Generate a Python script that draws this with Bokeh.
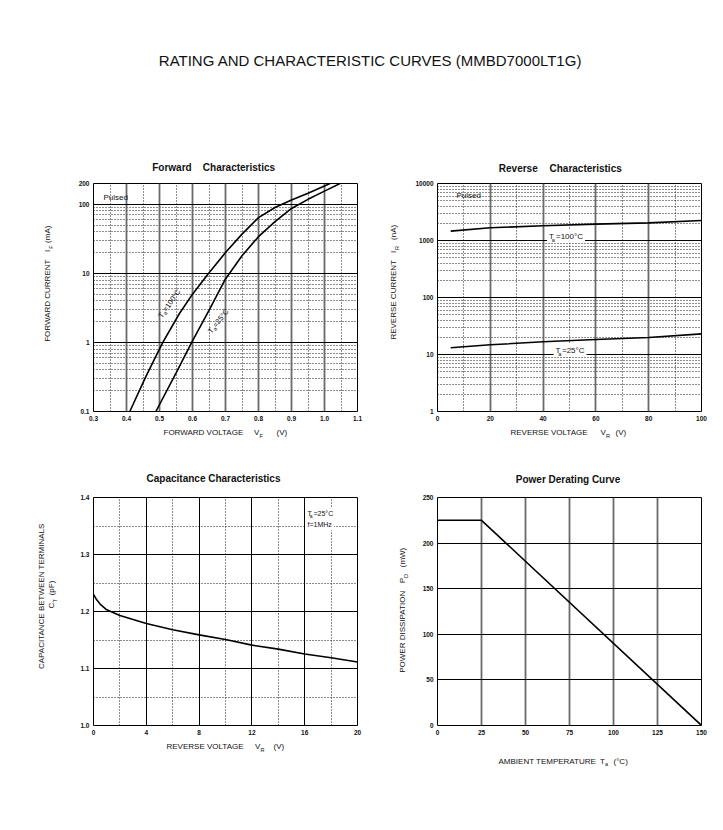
import math
from bokeh.plotting import figure
from bokeh.models import Range1d, FixedTicker, Grid, Label, CustomJSTickFormatter
from bokeh.layouts import column, row
from bokeh.embed import file_html
from bokeh.resources import INLINE

FONT = "Liberation Sans"
INK = "#111111"

# ---------------- data ----------------
page_title = "RATING AND CHARACTERISTIC CURVES (MMBD7000LT1G)"

# Forward characteristics (VF in V, IF in mA)
fwd_vf_100 = [0.41, 0.46, 0.51, 0.56, 0.60, 0.649, 0.70, 0.75, 0.80, 0.85, 0.90, 0.95, 1.017]
fwd_if_100 = [0.1, 0.33, 1.0, 2.6, 5.0, 10, 20, 37, 64, 90, 115, 145, 200]
fwd_vf_25 = [0.489, 0.55, 0.60, 0.65, 0.70, 0.75, 0.80, 0.85, 0.90, 0.95, 1.00, 1.047]
fwd_if_25 = [0.1, 0.36, 1.05, 2.9, 8.3, 18, 34, 56, 87, 118, 155, 200]
fwd_x_ticks = [0.3, 0.4, 0.5, 0.6, 0.7, 0.8, 0.9, 1.0, 1.1]
fwd_x_major = [0.4, 0.5, 0.6, 0.7, 0.8, 0.9, 1.0]
fwd_x_minor = [0.35, 0.45, 0.55, 0.65, 0.75, 0.85, 0.95, 1.05]
fwd_y_ticks = [0.1, 1, 10, 100, 200]
fwd_y_major = [1, 10, 100]
fwd_y_minor = [0.2, 0.3, 0.4, 0.5, 0.6, 0.7, 0.8, 0.9, 2, 3, 4, 5, 6, 7, 8, 9,
               20, 30, 40, 50, 60, 70, 80, 90]

# Reverse characteristics (VR in V, IR in nA)
rev_vr = [5, 20, 40, 60, 80, 100]
rev_ir_100 = [1460, 1670, 1810, 1940, 2040, 2240]
rev_ir_25 = [13.1, 14.8, 16.7, 18.3, 19.9, 23.0]
rev_x_ticks = [0, 20, 40, 60, 80, 100]
rev_x_major = [20, 40, 60, 80]
rev_x_minor = [10, 30, 50, 70, 90]
rev_y_ticks = [1, 10, 100, 1000, 10000]
rev_y_major = [10, 100, 1000]
rev_y_minor = [2, 3, 4, 5, 6, 7, 8, 9, 20, 30, 40, 50, 60, 70, 80, 90,
               200, 300, 400, 500, 600, 700, 800, 900,
               2000, 3000, 4000, 5000, 6000, 7000, 8000, 9000]

# Capacitance characteristics (VR in V, CT in pF)
cap_vr = [0, 0.2, 0.5, 1, 2, 4, 6, 8, 10, 12, 14, 16, 18, 20]
cap_ct = [1.230, 1.222, 1.213, 1.203, 1.193, 1.179, 1.168, 1.159, 1.151, 1.141, 1.134, 1.1255, 1.119, 1.1115]
cap_x_ticks = [0, 4, 8, 12, 16, 20]
cap_x_major = [4, 8, 12, 16]
cap_x_minor = [2, 6, 10, 14, 18]
cap_y_ticks = [1.0, 1.1, 1.2, 1.3, 1.4]
cap_y_major = [1.1, 1.2, 1.3]
cap_y_minor = [1.05, 1.15, 1.25, 1.35]

# Power derating (Ta in degC, PD in mW)
pwr_ta = [0, 25, 150]
pwr_pd = [225, 225, 0]
pwr_x_ticks = [0, 25, 50, 75, 100, 125, 150]
pwr_x_major = [25, 50, 75, 100, 125]
pwr_y_ticks = [0, 50, 100, 150, 200, 250]
pwr_y_major = [50, 100, 150, 200]

# ---------------- layout (absolute page pixels) ----------------
FW, FH = 264, 228
CB_L, CB_T, CB_B = 26, 5, 14          # chart borders (tick labels only)
LEFT_FRAME, RIGHT_FRAME = 93, 437
TOP_FRAME, BOT_FRAME = 183, 497
PAGE_W = 707

GRAY = "#6a6a6a"
DOT = "#1a1a1a"
DOTDASH = "1 2"


class Panel:
    def __init__(self, p, x0, y0, left, bottom):
        self.p, self.x0, self.y0, self.left, self.bottom = p, x0, y0, left, bottom


def lab(P, ax, ay, text, size=8.0, bold=False, angle=0.0, align="left",
        baseline="middle", bg=None, color=INK):
    """Label inside a chart frame, positioned in page pixels relative to the frame corner."""
    kw = dict(x=P.x0, y=P.y0, x_offset=ax - P.left, y_offset=P.bottom - ay,
              text=text, text_font=FONT, text_font_size=f"{size}px",
              text_font_style="bold" if bold else "normal", text_color=color,
              angle=angle, text_align=align, text_baseline=baseline)
    if bg:
        kw.update(background_fill_color=bg, padding=2)
    P.p.add_layout(Label(**kw))


def slab(s, ax, ay, text, size=8.0, bold=False, angle=0.0, align="left", baseline="middle"):
    """Label on a text strip whose data coordinates are page pixels."""
    s.add_layout(Label(x=ax, y=ay, text=text, text_font=FONT, text_font_size=f"{size}px",
                       text_font_style="bold" if bold else "normal", text_color=INK,
                       angle=angle, text_align=align, text_baseline=baseline))


def strip(x0, x1, y0, y1):
    s = figure(width=x1 - x0, height=y1 - y0, x_range=Range1d(x0, x1), y_range=Range1d(y1, y0),
               min_border=0, x_axis_location=None, y_axis_location=None,
               outline_line_color=None, output_backend="svg", toolbar_location=None,
               background_fill_color="white", border_fill_color="white")
    s.grid.visible = False
    return s


def rotated_ta(P, sx, sy, deg, rest, size=7.5):
    th = math.radians(deg)
    ux, uy = math.cos(th), -math.sin(th)
    nx, ny = math.sin(th), math.cos(th)
    wT = 0.611 * size
    wa = 0.556 * size * 0.72
    lab(P, sx, sy, "T", size=size, angle=th)
    lab(P, sx + ux * wT + nx * 2.0, sy + uy * wT + ny * 2.0, "a", size=size * 0.72, angle=th)
    lab(P, sx + ux * (wT + wa), sy + uy * (wT + wa), rest, size=size, angle=th)


def make_panel(x_range, y_range, log_y, br, x_ticks, y_ticks, left, top,
               x_fmt=None, y_fmt=None):
    p = figure(frame_width=FW, frame_height=FH, x_range=x_range, y_range=y_range,
               y_axis_type="log" if log_y else "linear", output_backend="svg",
               toolbar_location=None, min_border_left=CB_L, min_border_right=br,
               min_border_top=CB_T, min_border_bottom=CB_B,
               background_fill_color="white", border_fill_color="white")
    p.outline_line_color = "black"
    p.outline_line_width = 1
    p.xgrid.grid_line_color = None
    p.ygrid.grid_line_color = None
    for ax, ticks in ((p.xaxis, x_ticks), (p.yaxis, y_ticks)):
        ax.ticker = FixedTicker(ticks=ticks)
        ax.major_tick_line_color = None
        ax.minor_tick_line_color = None
        ax.major_tick_out = 0
        ax.major_tick_in = 0
        ax.minor_tick_out = 0
        ax.minor_tick_in = 0
        ax.axis_line_color = None
        ax.major_label_text_font = FONT
        ax.major_label_text_font_size = "6.5px"
        ax.major_label_text_font_style = "bold"
        ax.major_label_text_color = INK
        ax.major_label_standoff = 4
    if x_fmt:
        p.xaxis.formatter = CustomJSTickFormatter(code=x_fmt)
    if y_fmt:
        p.yaxis.formatter = CustomJSTickFormatter(code=y_fmt)
    return Panel(p, x_range.start, y_range.start, left, top + FH)


def add_grid(p, dim, ticks, color, width, dash="solid"):
    p.add_layout(Grid(dimension=dim, ticker=FixedTicker(ticks=ticks),
                      grid_line_color=color, grid_line_width=width, grid_line_dash=dash))


ONE_DEC = "return tick.toFixed(1);"
PLAIN = "return String(tick);"

# ---------------- forward ----------------
F = make_panel(Range1d(0.3, 1.1), Range1d(0.1, 200), True, 5, fwd_x_ticks, fwd_y_ticks,
               LEFT_FRAME, TOP_FRAME, x_fmt=ONE_DEC, y_fmt=PLAIN)
p = F.p
add_grid(p, 0, fwd_x_minor, DOT, 1, DOTDASH)
add_grid(p, 1, fwd_y_minor, DOT, 1, DOTDASH)
add_grid(p, 0, fwd_x_major, GRAY, 1.8)
add_grid(p, 1, fwd_y_major, "black", 1)
p.line(fwd_vf_100, fwd_if_100, line_color="black", line_width=1.6)
p.line(fwd_vf_25, fwd_if_25, line_color="black", line_width=1.6)
lab(F, 103, 196.5, "Pulsed", size=8)
rotated_ta(F, 159.5, 316.5, 55, "=100°C")
rotated_ta(F, 209, 332, 52, "=25°C")

# ---------------- reverse ----------------
R = make_panel(Range1d(0, 100), Range1d(1, 10000), True, 6, rev_x_ticks, rev_y_ticks,
               RIGHT_FRAME, TOP_FRAME, y_fmt=PLAIN)
p = R.p
add_grid(p, 0, rev_x_minor, DOT, 1, DOTDASH)
add_grid(p, 1, rev_y_minor, DOT, 1, DOTDASH)
add_grid(p, 0, rev_x_major, GRAY, 1.8)
add_grid(p, 1, rev_y_major, "black", 1)
p.line(rev_vr, rev_ir_100, line_color="black", line_width=1.6)
p.line(rev_vr, rev_ir_25, line_color="black", line_width=1.6)
lab(R, 456, 195, "Pulsed", size=8)
lab(R, 553.5, 236, "=100°C", bg="white")
lab(R, 546.5, 236, "T", bg="white")
lab(R, 551.3, 239, "a", size=5.5)
lab(R, 559.5, 350, "=25°C", bg="white")
lab(R, 553, 350, "T", bg="white")
lab(R, 557.8, 353, "a", size=5.5)

# ---------------- capacitance ----------------
C = make_panel(Range1d(0, 20), Range1d(1.0, 1.4), False, 5, cap_x_ticks, cap_y_ticks,
               LEFT_FRAME, BOT_FRAME, y_fmt=ONE_DEC)
p = C.p
add_grid(p, 0, cap_x_minor, DOT, 1, DOTDASH)
add_grid(p, 1, cap_y_minor, DOT, 1, DOTDASH)
add_grid(p, 0, cap_x_major, "black", 1)
add_grid(p, 1, cap_y_major, "black", 1)
p.line(cap_vr, cap_ct, line_color="black", line_width=1.6)
lab(C, 311, 513, "=25°C", size=7, bg="white")
lab(C, 305, 513, "T", size=7, bg="white")
lab(C, 309.3, 515.5, "a", size=5)
lab(C, 305, 524, "f=1MHz", size=7, bg="white")

# ---------------- power derating ----------------
W = make_panel(Range1d(0, 150), Range1d(0, 250), False, 6, pwr_x_ticks, pwr_y_ticks,
               RIGHT_FRAME, BOT_FRAME)
p = W.p
add_grid(p, 0, pwr_x_major, GRAY, 1.8)
add_grid(p, 1, pwr_y_major, "black", 1)
p.line(pwr_ta, pwr_pd, line_color="black", line_width=1.6)

# ---------------- text strips (page-pixel coordinates) ----------------
top_y0 = TOP_FRAME - CB_T
top_y1 = TOP_FRAME + FH + CB_B
bot_y0 = BOT_FRAME - CB_T
bot_y1 = BOT_FRAME + FH + CB_B
lx0 = LEFT_FRAME - CB_L
lx1 = LEFT_FRAME + FW + 5
rx0 = RIGHT_FRAME - CB_L
rx1 = RIGHT_FRAME + FW + 6

# strip A: page title + top panel titles
sA = strip(0, PAGE_W, 0, top_y0)
slab(sA, 370, 60, page_title, size=15, align="center")
slab(sA, 151.7, 167, "Forward", size=10, bold=True)
slab(sA, 202.3, 167, "Characteristics", size=10, bold=True)
slab(sA, 498.3, 168, "Reverse", size=10, bold=True)
slab(sA, 549, 168, "Characteristics", size=10, bold=True)

# y-label strips, top row
yF = strip(0, lx0, top_y0, top_y1)
slab(yF, 47, 305, "FORWARD CURRENT", angle=math.pi / 2, align="center")
slab(yF, 46.5, 251, "I", angle=math.pi / 2, align="center")
slab(yF, 50.5, 247, "F", size=5.5, angle=math.pi / 2, align="center")
slab(yF, 47, 233, "(mA)", angle=math.pi / 2, align="center")

yR = strip(lx1, rx0, top_y0, top_y1)
slab(yR, 393, 304, "REVERSE CURRENT", angle=math.pi / 2, align="center")
slab(yR, 392.5, 252, "I", angle=math.pi / 2, align="center")
slab(yR, 396.5, 248, "R", size=5.5, angle=math.pi / 2, align="center")
slab(yR, 393, 231, "(nA)", angle=math.pi / 2, align="center")

# strip B: top x labels + bottom panel titles
sB = strip(0, PAGE_W, top_y1, bot_y0)
slab(sB, 163, 432, "FORWARD VOLTAGE")
slab(sB, 253.5, 432, "V")
slab(sB, 259, 435, "F", size=5.5)
slab(sB, 276, 432, "(V)")
slab(sB, 510, 432, "REVERSE VOLTAGE")
slab(sB, 600, 432, "V")
slab(sB, 605.5, 435, "R", size=5.5)
slab(sB, 615, 432, "(V)")
slab(sB, 213, 478, "Capacitance Characteristics", size=10, bold=True, align="center")
slab(sB, 567.5, 479, "Power Derating Curve", size=10, bold=True, align="center")

# y-label strips, bottom row
yC = strip(0, lx0, bot_y0, bot_y1)
slab(yC, 40.5, 599, "CAPACITANCE BETWEEN TERMINALS", angle=math.pi / 2, align="center")
slab(yC, 50.5, 609, "C", angle=math.pi / 2, align="center")
slab(yC, 54, 604, "T", size=5.5, angle=math.pi / 2, align="center")
slab(yC, 50.5, 590, "(pF)", angle=math.pi / 2, align="center")

yW = strip(lx1, rx0, bot_y0, bot_y1)
slab(yW, 401.5, 637.5, "POWER DISSIPATION", angle=math.pi / 2, align="center")
slab(yW, 401.5, 582, "P", angle=math.pi / 2, align="center")
slab(yW, 405.5, 577, "D", size=5.5, angle=math.pi / 2, align="center")
slab(yW, 401.5, 557, "(mW)", angle=math.pi / 2, align="center")

# strip C: bottom x labels
sC = strip(0, PAGE_W, bot_y1, bot_y1 + 40)
slab(sC, 166, 746, "REVERSE VOLTAGE")
slab(sC, 254.5, 746, "V")
slab(sC, 260, 749, "R", size=5.5)
slab(sC, 273, 746, "(V)")
slab(sC, 498, 761, "AMBIENT TEMPERATURE")
slab(sC, 599.5, 761, "T")
slab(sC, 604.5, 763.5, "a", size=5.5)
slab(sC, 613, 761, "(°C)")

layout = column(
    sA,
    row(yF, F.p, yR, R.p),
    sB,
    row(yC, C.p, yW, W.p),
    sC,
)
open("out.html", "w").write(file_html(layout, INLINE))
